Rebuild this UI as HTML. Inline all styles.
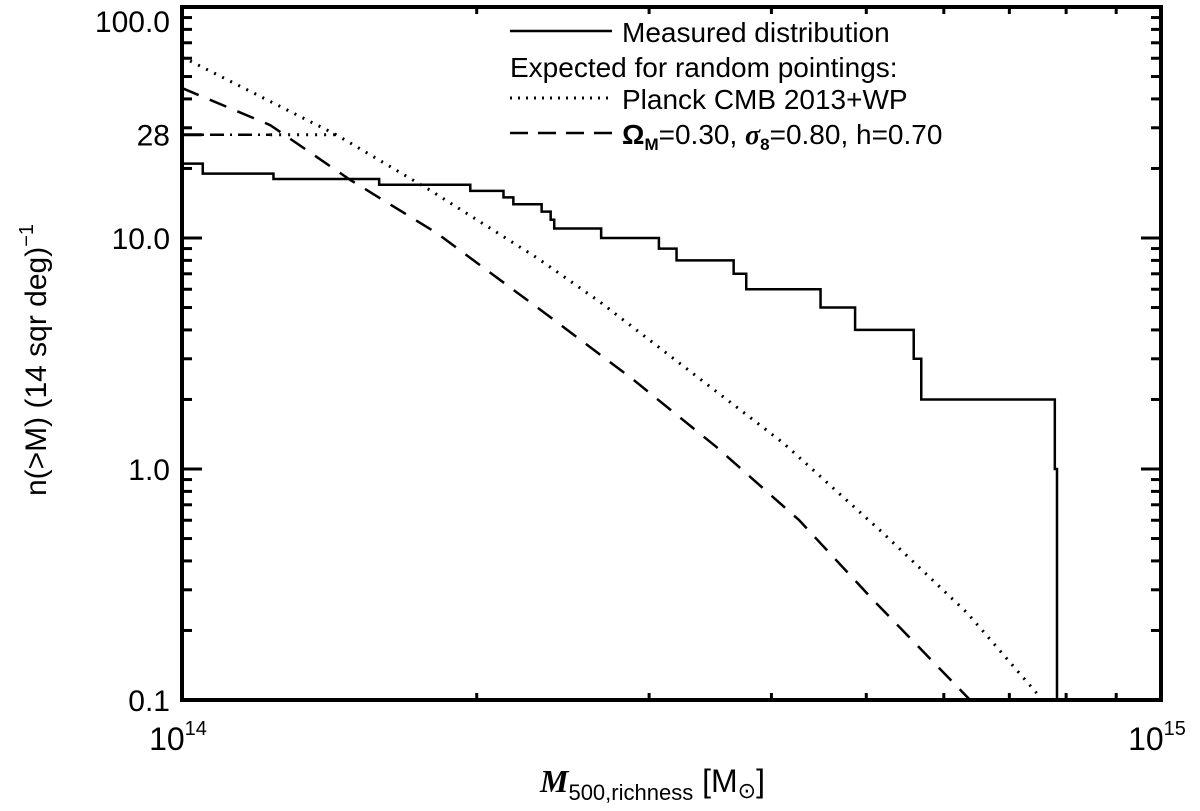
<!DOCTYPE html>
<html><head><meta charset="utf-8"><style>
html,body{margin:0;padding:0;background:#fff;}
svg{display:block;font-family:"Liberation Sans",sans-serif;}
</style></head><body>
<svg id="chart" width="1200" height="811" viewBox="0 0 1200 811">
<g id="marks"></g>
<g id="axes"></g>
<g>
  <line x1="510" y1="31" x2="612" y2="31" stroke="#000" stroke-width="2.5"/>
  <text x="622" y="42" font-size="28">Measured distribution</text>
  <text x="510" y="77" font-size="28">Expected for random pointings:</text>
  <line x1="510" y1="98" x2="612" y2="98" stroke="#000" stroke-width="3" stroke-dasharray="2 6"/>
  <text x="622" y="109" font-size="28">Planck CMB 2013+WP</text>
  <line x1="510" y1="133" x2="612" y2="133" stroke="#000" stroke-width="2.5" stroke-dasharray="18 10"/>
  <text x="622" y="144" font-size="28"><tspan font-weight="bold">Ω</tspan><tspan font-size="17" dy="6" font-weight="bold">M</tspan><tspan dy="-6">=0.30, </tspan><tspan font-style="italic" font-weight="bold" font-family="Liberation Serif, serif">σ</tspan><tspan font-size="17" dy="6" font-weight="bold">8</tspan><tspan dy="-6">=0.80, h=0.70</tspan></text>
</g>
<text transform="translate(46,360) rotate(-90)" text-anchor="middle" font-size="30">n(&gt;M) (14 sqr deg)<tspan font-size="20" dy="-13">−1</tspan></text>
<text x="540" y="792" font-size="32"><tspan font-family="Liberation Serif, serif" font-style="italic" font-weight="bold">M</tspan><tspan font-size="22" dy="8">500,richness</tspan><tspan dy="-8"> [M</tspan><tspan font-size="22" dy="6">⊙</tspan><tspan dy="-6">]</tspan></text>
</svg>
<script>
const stepMass = [1.0,1.05,1.24,1.59,1.97,2.13,2.18,2.33,2.38,2.40,2.68,3.07,3.20,3.66,3.77,4.49,4.87,5.59,5.69,7.79,7.83];
const stepCount = [21,19,18,17,16,15,14,13,12,11,10,9,8,7,6,5,4,3,2,1,0];
const planckLogM = [14.0,14.158,14.253,14.363,14.427,14.614,14.716,14.802,14.873];
const planckLogN = [1.784,1.446,1.208,0.913,0.723,0.113,-0.277,-0.623,-0.970];
const cosmoLogM = [14.0,14.09,14.172,14.26,14.376,14.46,14.546,14.63,14.706,14.805];
const cosmoLogN = [1.649,1.489,1.251,1.022,0.658,0.39,0.095,-0.22,-0.567,-1.0];
const capLevel = [28];
const capEndLogM = [14.09,14.158];
const yTickVals = [0.1,1.0,10.0,100.0];
const yTickLabels = ["0.1","1.0","10.0","100.0"];

const L=182,R=1161,T=7,B=700;
const xs = lm => L + (lm-14)*(R-L);
const ys = ln => B - (ln+1)*(B-T)/3;
const NS='http://www.w3.org/2000/svg';
const marks=document.getElementById('marks'), axes=document.getElementById('axes');
function mk(tag,attrs,parent){const e=document.createElementNS(NS,tag);for(const k in attrs)e.setAttribute(k,attrs[k]);parent.appendChild(e);return e;}

let d='';
for(let i=0;i<stepCount.length-1;i++){
  const x0=xs(14+Math.log10(stepMass[i])), x1=xs(14+Math.log10(stepMass[i+1]));
  const y=ys(Math.log10(stepCount[i]));
  d += (i===0?'M':'L')+x0+','+y+' L'+x1+','+y+' ';
}
d += 'L'+xs(14+Math.log10(stepMass[stepMass.length-1]))+','+B;
const sp=mk('path',{d:d,fill:'none',stroke:'#000','stroke-width':2.5},marks);



const pp=mk('path',{d:planckLogM.map((m,i)=>(i?'L':'M')+xs(m)+','+ys(planckLogN[i])).join(' '),fill:'none',stroke:'#000','stroke-width':3,'stroke-dasharray':'2 7'},marks);



const cp=mk('path',{d:cosmoLogM.map((m,i)=>(i?'L':'M')+xs(m)+','+ys(cosmoLogN[i])).join(' '),fill:'none',stroke:'#000','stroke-width':2.5,'stroke-dasharray':'18 12'},marks);



const yc=ys(Math.log10(capLevel[0]));
const c1=mk('line',{x1:L,y1:yc,x2:xs(capEndLogM[0]),y2:yc,stroke:'#000','stroke-width':2.5,'stroke-dasharray':'14 6 2 6'},marks);


const c2=mk('line',{x1:xs(capEndLogM[0]),y1:yc,x2:xs(capEndLogM[1]),y2:yc,stroke:'#000','stroke-width':3,'stroke-dasharray':'2 7'},marks);



const fr=mk('rect',{x:L,y:T,width:R-L,height:B-T,fill:'none',stroke:'#000','stroke-width':4},axes);


for(let dec=-1;dec<2;dec++){for(let k=1;k<10;k++){
  const y=ys(dec+Math.log10(k)); const len=k===1?20:10;
  mk('line',{x1:L,y1:y,x2:L+len,y2:y,stroke:'#000','stroke-width':3},axes);
  mk('line',{x1:R,y1:y,x2:R-len,y2:y,stroke:'#000','stroke-width':3},axes);
}}
mk('line',{x1:L,y1:yc,x2:L+20,y2:yc,stroke:'#000','stroke-width':3},axes);
yTickVals.forEach((v,i)=>{
  let y=ys(Math.log10(v))+11;
  if(y<32) y=32;
  const t=mk('text',{x:L-12,y:y,'text-anchor':'end','font-size':30},axes);
  t.textContent=yTickLabels[i];
  
  
});
const t28=mk('text',{x:L-12,y:yc+11,'text-anchor':'end','font-size':30},axes);
t28.textContent='28';


for(let k=2;k<10;k++){const x=xs(14+Math.log10(k));
  mk('line',{x1:x,y1:B,x2:x,y2:B-7,stroke:'#000','stroke-width':3},axes);
  mk('line',{x1:x,y1:T,x2:x,y2:T+7,stroke:'#000','stroke-width':3},axes);}
[[14,L],[15,R]].forEach(([p,x])=>{
  const t=mk('text',{x:x-4,y:750,'text-anchor':'middle','font-size':32},axes);
  t.innerHTML='10<tspan font-size="20" dy="-15">'+p+'</tspan>';
  
  
});
</script>
</body></html>
